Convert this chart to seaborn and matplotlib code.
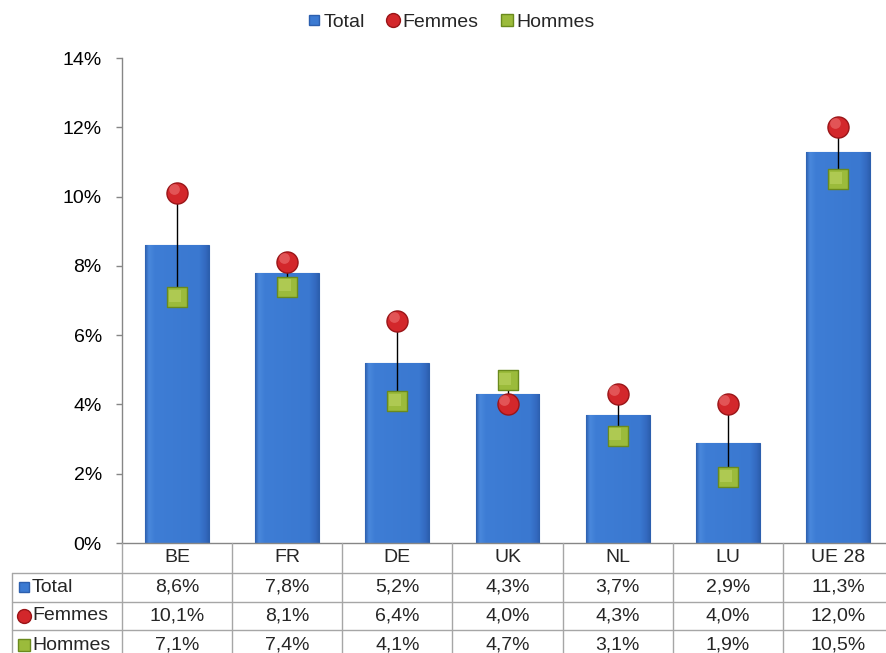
import numpy as np
import pandas as pd
import matplotlib
matplotlib.use("Agg")
import matplotlib.pyplot as plt
import matplotlib.transforms as mtransforms
from matplotlib.lines import Line2D
from matplotlib.colors import LinearSegmentedColormap
import seaborn as sns

# Unemployment rates by country (%)
categories = ["BE", "FR", "DE", "UK", "NL", "LU", "UE 28"]
total = [8.6, 7.8, 5.2, 4.3, 3.7, 2.9, 11.3]
femmes = [10.1, 8.1, 6.4, 4.0, 4.3, 4.0, 12.0]
hommes = [7.1, 7.4, 4.1, 4.7, 3.1, 1.9, 10.5]
series_names = ["Total", "Femmes", "Hommes"]
y_ticks = [0, 2, 4, 6, 8, 10, 12, 14]

W, H = 886, 653
sns.set_theme(style="white")
plt.rcParams["font.family"] = ["Liberation Sans", "DejaVu Sans"]
FS = 14

BLUE = "#3b7ad2"
BLUE_DARK = "#2c5fae"
RED = "#d3272b"
RED_DARK = "#9a1518"
GREEN = "#9bbb3b"
GREEN_DARK = "#6a8a1d"
GRID = "#a6a6a6"
AXIS = "#868686"

fig = plt.figure(figsize=(W / 100, H / 100), dpi=100)


def fx(px):
    return px / W


def fy(py):
    return 1 - py / H


ax_left, ax_right, ax_top, ax_bottom = 122, 893, 58, 543
ax = fig.add_axes([fx(ax_left), fy(ax_bottom), (ax_right - ax_left) / W,
                   (ax_bottom - ax_top) / H])

df = pd.DataFrame({"pays": categories, "Total": total})
sns.barplot(data=df, x="pays", y="Total", ax=ax, color=BLUE, width=0.58,
            edgecolor=BLUE_DARK, linewidth=0.8, saturation=1, zorder=2)

# subtle bevel shading across every bar
cmap = LinearSegmentedColormap.from_list(
    "bar", [(0.0, BLUE_DARK), (0.06, "#4a88dc"), (0.15, "#3e7dd5"),
            (0.85, "#3a78d0"), (0.95, "#3369bf"), (1.0, BLUE_DARK)])
grad = np.linspace(0, 1, 256).reshape(1, -1)
for p in ax.patches:
    x0, y0 = p.get_x(), p.get_y()
    w, h = p.get_width(), p.get_height()
    im = ax.imshow(grad, cmap=cmap, aspect="auto",
                   extent=[x0, x0 + w, y0, y0 + h], zorder=2.1,
                   interpolation="bilinear")
    im.set_clip_path(p)

pos = np.arange(len(categories))
ax.vlines(pos, femmes, hommes, color="black", lw=1.0, zorder=3)
ax.scatter(pos, hommes, marker="s", s=200, color=GREEN,
           edgecolor=GREEN_DARK, linewidth=1.0, zorder=4)
ax.scatter(pos - 0.02, np.array(hommes) + 0.04, marker="s", s=70,
           color="#c2d86a", alpha=0.5, linewidth=0, zorder=4.1)
ax.scatter(pos, femmes, marker="o", s=230, color=RED,
           edgecolor=RED_DARK, linewidth=1.0, zorder=5)
ax.scatter(pos - 0.03, np.array(femmes) + 0.12, marker="o", s=60,
           color="#f07a7a", alpha=0.55, linewidth=0, zorder=5.1)

ax.set_xlim(-0.5, len(categories) - 0.5)
ax.set_ylim(0, 14)
ax.set_yticks(y_ticks)
ax.set_yticklabels([f"{t}%" for t in y_ticks], fontsize=FS)
ax.set_xticks([])
ax.set_xlabel("")
ax.set_ylabel("")
ax.patch.set_alpha(0)
for s in ["top", "right"]:
    ax.spines[s].set_visible(False)
for s in ["left", "bottom"]:
    ax.spines[s].set_color(AXIS)
    ax.spines[s].set_linewidth(1.0)
ax.tick_params(axis="y", left=True, length=4.5, width=1.0, color=AXIS,
               pad=10, labelcolor="black")

# data table under the plot
blend = mtransforms.blended_transform_factory(ax.transData, fig.transFigure)
row_lines = [573, 602, 630]
for k in range(len(categories) + 1):
    fig.add_artist(Line2D([k - 0.5, k - 0.5], [fy(543), fy(H)],
                          transform=blend, color=GRID, lw=1.0))
for ry in row_lines:
    fig.add_artist(Line2D([fx(12), 1.01], [fy(ry), fy(ry)],
                          transform=fig.transFigure, color=GRID, lw=1.0))
fig.add_artist(Line2D([fx(12), fx(12)], [fy(573), fy(H)],
                      transform=fig.transFigure, color=GRID, lw=1.0))


def fmt(v):
    return f"{v:.1f}%".replace(".", ",")


row_centers = [558, 587, 616, 645]
for i, c in enumerate(categories):
    ax.text(i, fy(row_centers[0]), c, transform=blend, ha="center",
            va="center", fontsize=FS)
    for r, vals in enumerate([total, femmes, hommes]):
        ax.text(i, fy(row_centers[r + 1]), fmt(vals[i]), transform=blend,
                ha="center", va="center", fontsize=FS)

markers = [("s", BLUE, BLUE_DARK, 7), ("o", RED, RED_DARK, 10),
           ("s", GREEN, GREEN_DARK, 9)]
for r, (name, (m, c, ec, ms)) in enumerate(zip(series_names, markers)):
    yy = fy(row_centers[r + 1])
    fig.add_artist(Line2D([fx(24)], [yy], marker=m, color=c,
                          markeredgecolor=ec, markersize=ms,
                          transform=fig.transFigure, linestyle="none"))
    fig.text(fx(32), yy, name, ha="left", va="center", fontsize=FS)

# legend
handles = [Line2D([], [], marker=m, color=c, markeredgecolor=ec,
                  markersize=ms, linestyle="none")
           for (m, c, ec, ms) in markers]
fig.legend(handles, series_names, loc="center", bbox_to_anchor=(fx(451), fy(22)),
           ncol=3, frameon=False, fontsize=FS, handlelength=0.7,
           handletextpad=0.15, columnspacing=1.1, borderaxespad=0)

fig.savefig("out.png", dpi=100)
